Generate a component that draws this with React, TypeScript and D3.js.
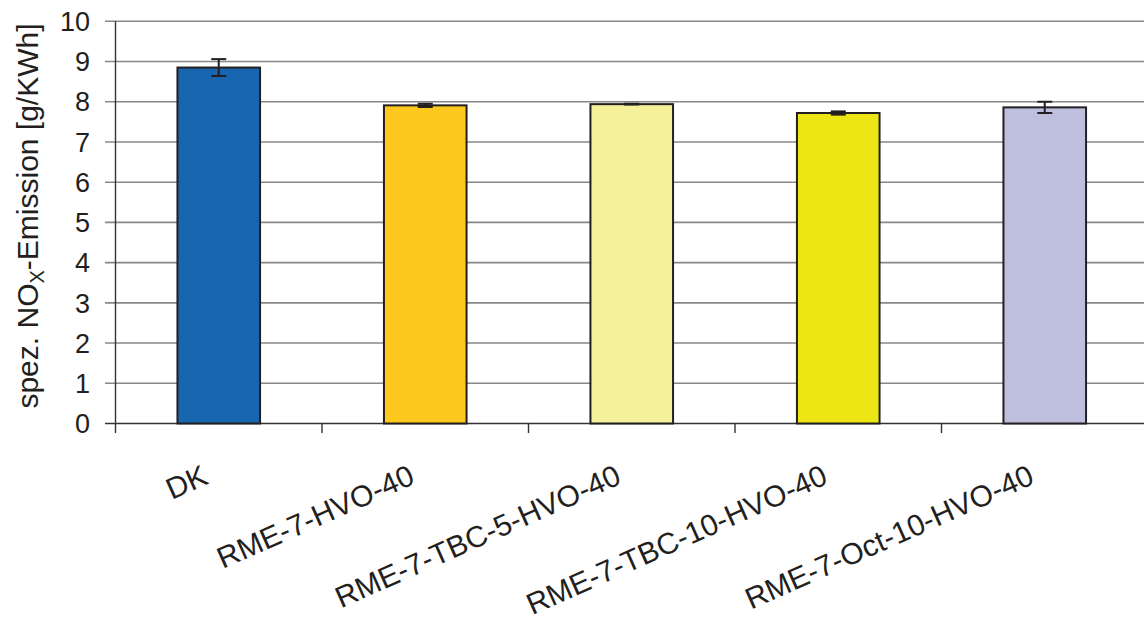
import React from "react";
import * as d3 from "d3";

const categories = ["DK", "RME-7-HVO-40", "RME-7-TBC-5-HVO-40", "RME-7-TBC-10-HVO-40", "RME-7-Oct-10-HVO-40"];
const values = [8.85, 7.91, 7.94, 7.72, 7.86];
const errors = [0.21, 0.04, 0.01, 0.04, 0.14];
const colors = ["#1866b0", "#ffc81e", "#f5f09a", "#eee614", "#bebede"];
const yTicks = [0, 1, 2, 3, 4, 5, 6, 7, 8, 9, 10];

const W = 1144, H = 622;
const left = 115.5, right = 1148, top = 21.3, bottom = 423.5;

export default function App() {
  const x = d3.scaleBand<string>().domain(categories).range([left, right]).paddingInner(0).paddingOuter(0);
  const y = d3.scaleLinear().domain([0, 10]).range([bottom, top]);
  const bw = x.bandwidth() * 0.4;
  const font = "Arial, 'Liberation Sans', Helvetica, sans-serif";
  const bounds = [...categories.map((c) => x(c)!), right];
  return (
    <svg width={W} height={H} style={{ position: "absolute", left: 0, top: 0, background: "#fff" }} fontFamily={font}>
      {yTicks.map((t) => (
        <g key={t}>
          <line x1={105} x2={W} y1={y(t)} y2={y(t)} stroke={t === 0 ? "#333" : "#888"} strokeWidth={1.6} />
          <text x={90} y={y(t)} dy="0.36em" textAnchor="end" fontSize={27} fill="#231f20">{t}</text>
        </g>
      ))}
      <line x1={left} x2={left} y1={top} y2={433} stroke="#333" strokeWidth={1.4} />
      {bounds.slice(1).map((b, i) => (
        <line key={i} x1={b} x2={b} y1={bottom} y2={433} stroke="#333" strokeWidth={1.4} />
      ))}
      {categories.map((c, i) => {
        const cx = x(c)! + x.bandwidth() / 2;
        return (
          <g key={c}>
            <rect x={cx - bw / 2} y={y(values[i])} width={bw} height={y(0) - y(values[i])} fill={colors[i]} stroke="#231f20" strokeWidth={2} />
            <line x1={cx} x2={cx} y1={y(values[i] + errors[i])} y2={y(values[i] - errors[i])} stroke="#231f20" strokeWidth={2} />
            <line x1={cx - 7.5} x2={cx + 7.5} y1={y(values[i] + errors[i])} y2={y(values[i] + errors[i])} stroke="#231f20" strokeWidth={2} />
            <line x1={cx - 7.5} x2={cx + 7.5} y1={y(values[i] - errors[i])} y2={y(values[i] - errors[i])} stroke="#231f20" strokeWidth={2} />
            <text transform={`translate(${cx - 9},${483}) rotate(-24)`} textAnchor="end" fontSize={30} fill="#231f20">{c}</text>
          </g>
        );
      })}
      <text transform={`translate(38,${216}) rotate(-90)`} textAnchor="middle" fontSize={30} fill="#231f20">
        spez. NO<tspan fontSize={20} dy={6}>X</tspan><tspan dy={-6}>-Emission [g/KWh]</tspan>
      </text>
    </svg>
  );
}
